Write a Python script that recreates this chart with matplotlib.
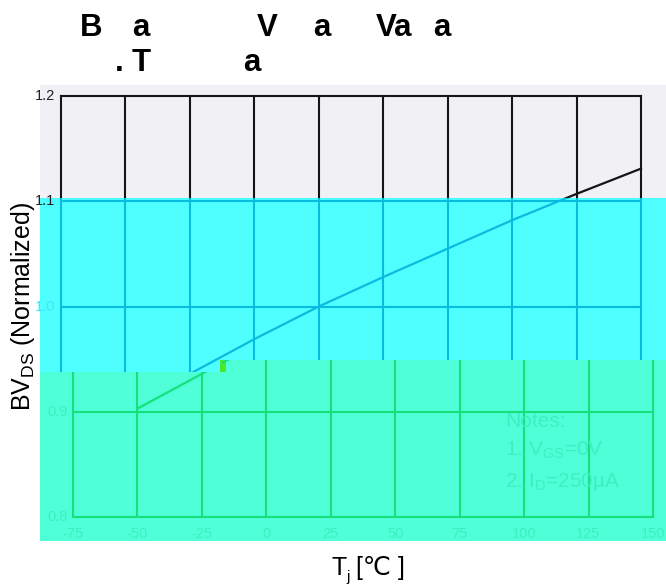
import matplotlib
matplotlib.use("Agg")
import matplotlib.pyplot as plt
from matplotlib.patches import Polygon
from matplotlib.transforms import IdentityTransform
from matplotlib.font_manager import FontProperties

# 데이터 (25℃ 기준 정규화)
temps = [-50, -25, 0, 25, 50, 75, 100, 125, 150]
bv_norm = [0.903, 0.936, 0.969, 1.000, 1.028, 1.055, 1.082, 1.107, 1.131]
x_ticks = [-75, -50, -25, 0, 25, 50, 75, 100, 125, 150]
x_labels = ['-75', '-50', '-25', '0', '25', '50', '75', '100', '125', '150']
y_ticks = [0.8, 0.9, 1.0, 1.1, 1.2]
y_labels = ['0.8', '0.9', '1.0', '1.1', '1.2']
title_lines = ['Breakdown Voltage Variation', 'vs. Temperature']
notes = ['Notes:', r'1. V$_\mathregular{GS}$=0V', r'2. I$_\mathregular{D}$=250µA']

W, H = 666, 588
fig = plt.figure(figsize=(W / 100, H / 100), dpi=100)
fig.patch.set_facecolor('white')


def px_poly(pts, **kw):
    # 픽셀 좌표(위에서부터) -> 디스플레이 좌표
    return Polygon([(x, H - y) for x, y in pts], closed=True,
                   transform=IdentityTransform(), **kw)


# 배경 띠
gray_pts = [(40, 85), (666, 85), (666, 198), (40, 198)]
cyan_pts = [(40, 198), (666, 198), (666, 360), (222, 360), (222, 372), (40, 372)]
green_pts = [(40, 372), (222, 372), (222, 360), (666, 360), (666, 541), (40, 541)]
for pts, fc in [(gray_pts, '#F0F0F5'), (cyan_pts, '#4FFFFF'), (green_pts, '#4FFFD8')]:
    fig.add_artist(px_poly(pts, facecolor=fc, edgecolor='none', zorder=-5))
fig.add_artist(px_poly([(220, 360), (226, 360), (226, 372), (220, 372)],
                       facecolor='#4EE82A', edgecolor='none', zorder=-4))


def make_axes(left, top, right, bottom):
    a = fig.add_axes([left / W, 1 - bottom / H, (right - left) / W, (bottom - top) / H])
    a.set_xlim(-75, 150)
    a.set_ylim(0.8, 1.2)
    a.set_axis_off()
    return a


ax = make_axes(61, 96, 641, 517)
ax_g = make_axes(73, 96, 653, 517)  # 아래 초록 띠는 오른쪽으로 밀려 있음


def draw_panel(a, color, pts):
    clip = px_poly(pts)
    arts = [a.axvline(t, color=color, lw=1.5) for t in x_ticks]
    arts += [a.axhline(v, color=color, lw=1.5) for v in y_ticks]
    arts += a.plot(temps, bv_norm, color=color, lw=1.6)
    for art in arts:
        art.set_clip_path(clip)
        art.set_clip_box(None)


draw_panel(ax, '#151515', gray_pts)
draw_panel(ax, '#08BCE0', cyan_pts)
draw_panel(ax_g, '#16E07A', green_pts)

# 눈금 라벨
for v, lab in zip(y_ticks, y_labels):
    if v >= 1.1:
        a, c = ax, '#222222'
    elif v >= 1.0:
        a, c = ax, '#3FE6F4'
    else:
        a, c = ax_g, '#3BEFC2'
    a.annotate(lab, (0, v), xycoords=a.get_yaxis_transform(), xytext=(-4, 0),
               textcoords='offset points', ha='right', va='center',
               fontsize=10.5, color=c, family='Liberation Sans')
for t, lab in zip(x_ticks, x_labels):
    ax_g.annotate(lab, (t, 0), xycoords=ax_g.get_xaxis_transform(), xytext=(0, -12),
                  textcoords='offset points', ha='center', va='center',
                  fontsize=10.5, color='#3BEFC2', family='Liberation Sans')

# 주석
for i, line in enumerate(notes):
    fig.text(505 / W, 1 - [427, 455, 487][i] / H, line, fontsize=15,
             color='#3BEFC2', family='Liberation Sans', va='baseline')

# 축 라벨
fig.text(23 / W, 1 - 306 / H, r'BV$_\mathregular{DS}$ (Normalized)', rotation=90,
         ha='center', va='center', fontsize=18, family='Liberation Sans')
lab_font = ['Liberation Sans Narrow', 'Liberation Sans', 'DejaVu Sans']
fig.text(332 / W, 1 - 575 / H, 'T', family=lab_font, fontsize=18, va='baseline')
fig.text(346 / W, 1 - 581 / H, 'j', family=lab_font, fontsize=11, va='baseline')
fig.text(356 / W, 1 - 575 / H, '[℃ ]', family=lab_font, fontsize=18, va='baseline')

# 제목: 원본처럼 일부 글자만 보임 (연속된 글자는 한 덩어리로)
title_font = FontProperties(family='Liberation Sans', weight='bold', size=22.5)
shown = set('BVTa.')
renderer = fig.canvas.get_renderer()


def text_w(s):
    return renderer.get_text_width_height_descent(s, title_font, ismath=False)[0]


for line, base in zip(title_lines, [36, 71]):
    i = 0
    while i < len(line):
        if line[i] not in shown:
            i += 1
            continue
        j = i
        while j < len(line) and line[j] in shown:
            j += 1
        run = line[i:j]
        x = 80 + text_w(line[:j]) - text_w(run)
        fig.text(x / W, 1 - base / H, run, fontproperties=title_font, va='baseline')
        i = j

fig.savefig('out.png', dpi=100, facecolor='white')
